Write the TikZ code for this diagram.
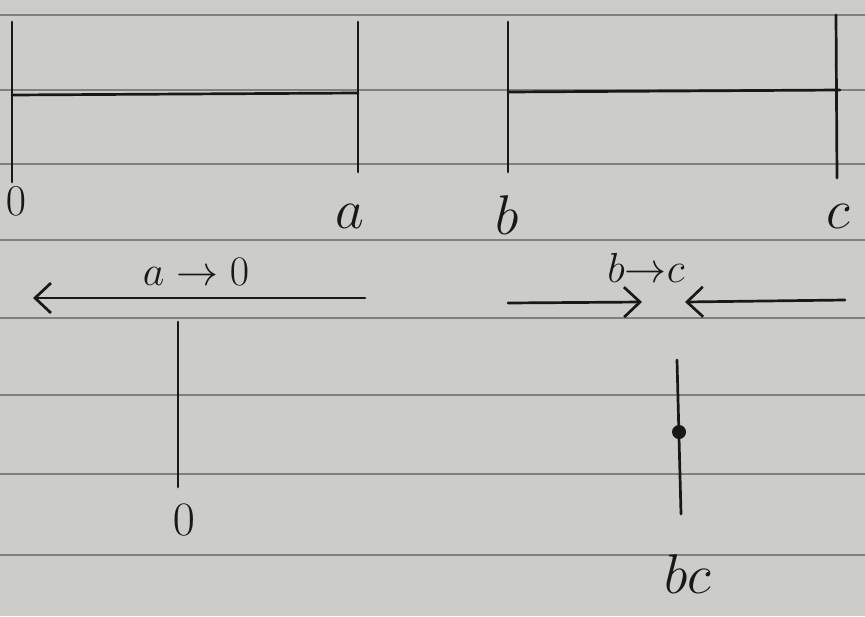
\RequirePackage{fix-cm}
\documentclass[tikz,border=0pt]{standalone}
\usepackage{tikz}
\usetikzlibrary{arrows.meta,positioning}
\definecolor{paper}{RGB}{204,205,200}
\definecolor{rule}{RGB}{128,128,124}
\definecolor{ink}{RGB}{24,24,24}
\begin{document}
\begin{tikzpicture}[x=1pt,y=-1pt,>={Straight Barb[length=16pt,width=30pt]},
    pen/.style={draw=ink,line width=2.7pt,line cap=round},
    lbl/.style={text=ink,font=\fontsize{56}{62}\selectfont,inner sep=0pt},
    digit lbl/.style={lbl,font=\fontsize{44}{50}\selectfont},
    small lbl/.style={lbl,font=\fontsize{42}{48}\selectfont}]
  \fill[paper] (0,0) rectangle (865,616);
  \useasboundingbox (0,0) rectangle (865,616);
  \foreach \y in {15,90,164,240,318,395,474,555}
    \draw[rule,line width=1.3pt] (0,\y) -- (865,\y);

  % the two intervals
  \coordinate (o top) at (12,22);   \coordinate (o bot) at (12,182);
  \coordinate (a top) at (358,22);  \coordinate (a bot) at (358,172);
  \coordinate (o mid) at (12,95);   \coordinate (a mid) at (358,93);
  \coordinate (b top) at (508,22);  \coordinate (b bot) at (508,172);
  \coordinate (c top) at (836,15);  \coordinate (c bot) at (837,178);
  \coordinate (b mid) at (508,92);  \coordinate (c mid) at (840,90);
  \draw[pen] (o top) -- (o bot);
  \draw[pen] (a top) -- (a bot);
  \draw[pen] (o mid) -- (a mid);
  \draw[pen] (b top) -- (b bot);
  \draw[pen] (c top) -- (c bot);
  \draw[pen] (b mid) -- (c mid);
  \node[digit lbl] (l0) at (16,201) {$0$};
  \node[lbl] (la) at (350,216) {$a$};
  \node[lbl] (lb) at (507,215) {$b$};
  \node[lbl] (lc) at (838,216) {$c$};

  % shrinking
  \coordinate (ao start) at (365,298); \coordinate (ao end) at (33,298);
  \draw[pen,->] (ao start) -- (ao end);
  \node[small lbl] (lao) at (196,272) {$a\to0$};
  \coordinate (bc l1) at (508,303); \coordinate (bc l2) at (642,302);
  \coordinate (bc r1) at (845,300); \coordinate (bc r2) at (685,302);
  \draw[pen,->] (bc l1) -- (bc l2);
  \draw[pen,->] (bc r1) -- (bc r2);
  \node[small lbl] (lbc) at (646,268) {$b{\to}c$};

  % limits
  \coordinate (z top) at (178,322); \coordinate (z bot) at (178,487);
  \draw[pen] (z top) -- (z bot);
  \node[digit lbl,font=\fontsize{48}{54}\selectfont] (lz) at (184,520) {$0$};
  \coordinate (p top) at (677,360); \coordinate (p bot) at (681,514);
  \draw[pen] (p top) -- (p bot);
  \node[circle,fill=ink,minimum size=14pt,inner sep=0pt] (p dot) at (679,432) {};
  \node[lbl] (lp) at (688,574) {$bc$};
\end{tikzpicture}
\end{document}
